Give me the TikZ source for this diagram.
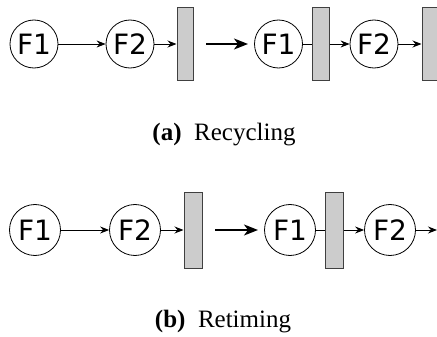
\documentclass[tikz,border=0pt]{standalone}
\usepackage{fontspec}
\setmainfont{Liberation Serif}
\newfontfamily\labelfont{DejaVu Sans}
\usetikzlibrary{arrows.meta}

\begin{document}
\begin{tikzpicture}[x=1pt,y=-1pt,
  fu/.style={circle,draw=black,line width=0.8pt,minimum size=#1,inner sep=0pt,
    font=\labelfont\fontsize{28}{28}\selectfont},
  fu/.default=48pt,
  reg/.style={rectangle,draw=black!75,fill=black!20,line width=1pt,inner sep=0pt},
  conn/.style={line width=0.9pt,-{Stealth[length=9pt,width=7pt,inset=3pt]}},
  plain/.style={line width=0.9pt},
  becomes/.style={line width=1.5pt,-{Stealth[length=14pt,width=11pt,inset=4pt]}},
  caption/.style={anchor=base,inner sep=0pt,font=\fontsize{25}{25}\selectfont}]
\useasboundingbox (0,0) rectangle (437,337);

% (a) recycling: pipeline before and after
\node[fu] (a1) at (34,44) {F1};
\node[fu] (a2) at (130,44) {F2};
\node[reg,minimum width=16pt,minimum height=73pt] (ar) at (185,44) {};
\coordinate (aS) at (206,44);
\coordinate (aE) at (248,44);
\node[fu] (b1) at (278.5,44) {F1};
\node[reg,minimum width=17pt,minimum height=73pt] (br1) at (320.5,44) {};
\node[fu] (b2) at (374,44) {F2};
\node[reg,minimum width=16pt,minimum height=73pt] (br2) at (430,44) {};

\draw[conn] (a1) -- (a2);
\draw[conn] (a2) -- (ar);
\draw[becomes] (aS) -- (aE);
\draw[plain] (b1) -- (br1);
\draw[conn] (br1) -- (b2);
\draw[conn] (b2) -- (br2);

\node[caption] (capa) at (224,141) {\textbf{(a)}\hspace{0.5em}Recycling};

% (b) retiming: pipeline before and after
\node[fu=51pt] (c1) at (35,230) {F1};
\node[fu=51pt] (c2) at (135,230) {F2};
\node[reg,minimum width=18pt,minimum height=76pt] (cr) at (193,230) {};
\coordinate (cS) at (215,230);
\coordinate (cE) at (258,230);
\node[fu=51pt] (d1) at (290,230) {F1};
\node[reg,minimum width=18pt,minimum height=76pt] (dr) at (334,230) {};
\node[fu=51pt] (d2) at (390,230) {F2};
\coordinate (dOut) at (437,230);

\draw[conn] (c1) -- (c2);
\draw[conn] (c2) -- (cr);
\draw[becomes] (cS) -- (cE);
\draw[plain] (d1) -- (dr);
\draw[conn] (dr) -- (d2);
\draw[conn] (d2) -- (dOut);

\node[caption] (capb) at (223,327) {\textbf{(b)}\hspace{0.5em}Retiming};
\end{tikzpicture}
\end{document}
